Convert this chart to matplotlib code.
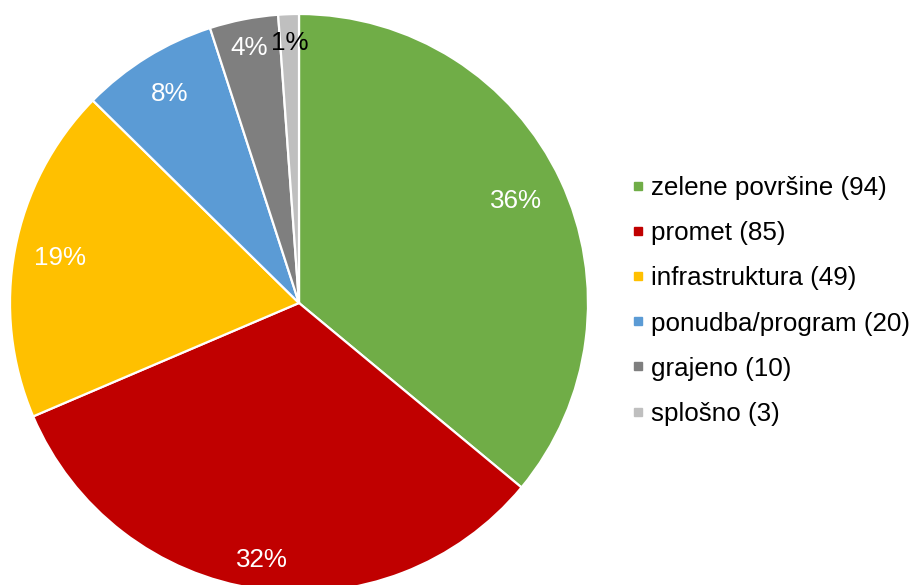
import matplotlib
matplotlib.use('Agg')
import matplotlib.pyplot as plt
from matplotlib.lines import Line2D
import numpy as np

plt.rcParams['font.family'] = ['Liberation Sans', 'DejaVu Sans']

categories = ['zelene površine', 'promet', 'infrastruktura',
              'ponudba/program', 'grajeno', 'splošno']
counts = [94, 85, 49, 20, 10, 3]
pct_labels = ['36%', '32%', '19%', '8%', '4%', '1%']
colors = ['#70AD47', '#C00000', '#FFC000', '#5B9BD5', '#7F7F7F', '#BFBFBF']
label_colors = ['white', 'white', 'white', 'white', 'white', 'black']
label_dist = [0.83, 0.90, 0.84, 0.85, 0.90, 0.90]

W, H = 921, 585
fig = plt.figure(figsize=(W / 100, H / 100), dpi=100)
ax = fig.add_axes([0, 0, 1, 1])

cx, cy, r = 299, H - 303, 289
wedges, _ = ax.pie(counts, colors=colors, startangle=90, counterclock=False,
                   center=(cx, cy), radius=r, frame=True,
                   wedgeprops=dict(edgecolor='white', linewidth=1.6))
ax.set_xlim(0, W)
ax.set_ylim(0, H)
ax.set_aspect('equal')
ax.axis('off')

for w, lab, col, d in zip(wedges, pct_labels, label_colors, label_dist):
    ang = np.deg2rad((w.theta1 + w.theta2) / 2)
    ax.text(cx + d * r * np.cos(ang), cy + d * r * np.sin(ang), lab,
            color=col, fontsize=18.7, ha='center', va='center')

handles = [Line2D([], [], marker='s', linestyle='none', markersize=5.5,
                  markerfacecolor=c, markeredgecolor=c) for c in colors]
labels = [f'{c} ({n})' for c, n in zip(categories, counts)]
ax.legend(handles, labels, loc='center left',
          bbox_to_anchor=(632 / W, 1 - 301 / H), frameon=False,
          fontsize=18.7, handlelength=0.45, handletextpad=0.3,
          labelspacing=0.81, borderpad=0, borderaxespad=0)

fig.savefig('out.png', dpi=100)
